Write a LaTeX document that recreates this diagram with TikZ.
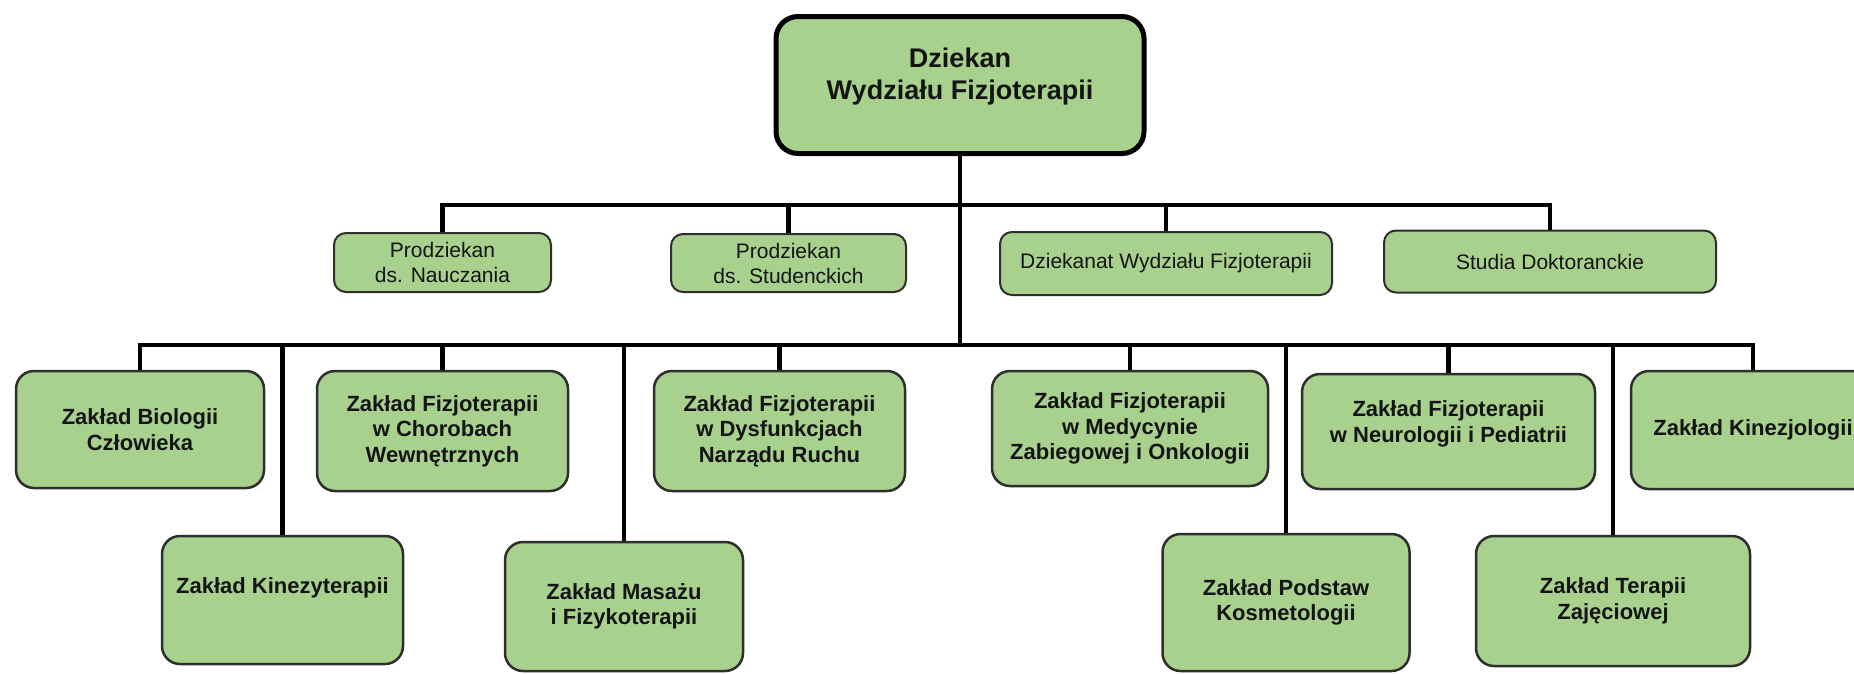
\documentclass[tikz,border=0pt]{standalone}
\usepackage{fontspec}
\setmainfont{Liberation Sans}
\definecolor{boxfill}{HTML}{A9D18E}
\definecolor{boxline}{HTML}{2E2E2E}
\definecolor{txt}{HTML}{141414}
\begin{document}
\begin{tikzpicture}[x=1pt,y=-1pt,
  box/.style={draw=boxline, fill=boxfill, rounded corners=18pt, line width=2.5pt, align=center, inner sep=0pt, text=txt},
  dept/.style={box, font=\fontsize{22}{25.5}\selectfont\bfseries},
  deanbox/.style={box, draw=black, line width=5pt, rounded corners=22pt, font=\fontsize{27}{32}\selectfont\bfseries},
  office/.style={box, rounded corners=12pt, line width=2pt, font=\fontsize{21}{25}\selectfont},
  conn/.style={line width=4.8pt, draw=black}]
\useasboundingbox (0,0) rectangle (1854,673);
\begin{scope}
\clip (0,0) rectangle (1854,673);
% dean
\node[deanbox, minimum width=368pt, minimum height=137pt, text depth=22pt] (dean) at (960,85) {Dziekan\\Wydziału Fizjoterapii};
% level 2
\node[office, minimum width=217pt, minimum height=59pt] (p1) at (442.5,262.5) {Prodziekan\\ds. Nauczania};
\node[office, minimum width=235pt, minimum height=58pt] (p2) at (788.5,263) {Prodziekan\\ds. Studenckich};
\node[office, minimum width=332pt, minimum height=63pt] (dz) at (1166,263.5) {Dziekanat Wydziału Fizjoterapii};
\node[office, minimum width=332pt, minimum height=62pt] (sd) at (1550,261.5) {Studia Doktoranckie};
% level 3
\node[dept, minimum width=248pt, minimum height=117pt] (b1) at (140,429.5) {Zakład Biologii\\Człowieka};
\node[dept, minimum width=241pt, minimum height=128pt, text depth=28pt] (b2) at (282.5,600) {Zakład Kinezyterapii};
\node[dept, minimum width=251pt, minimum height=120pt] (b3) at (442.5,431) {Zakład Fizjoterapii\\w Chorobach\\Wewnętrznych};
\node[dept, minimum width=238pt, minimum height=129pt] (b4) at (624,606.5) {Zakład Masażu\\i Fizykoterapii};
\node[dept, minimum width=251pt, minimum height=120pt] (b5) at (779.5,431) {Zakład Fizjoterapii\\w Dysfunkcjach\\Narządu Ruchu};
\node[dept, minimum width=276pt, minimum height=115pt] (b6) at (1130,428.5) {Zakład Fizjoterapii\\w Medycynie\\Zabiegowej i Onkologii};
\node[dept, minimum width=247pt, minimum height=137pt] (b7) at (1286,602.5) {Zakład Podstaw\\Kosmetologii};
\node[dept, minimum width=293pt, minimum height=115pt, text depth=20pt] (b8) at (1448.5,431.5) {Zakład Fizjoterapii\\w Neurologii i Pediatrii};
\node[dept, minimum width=274pt, minimum height=130pt] (b9) at (1613,601) {Zakład Terapii\\Zajęciowej};
\node[dept, minimum width=244pt, minimum height=118pt] (b10) at (1753,430) {Zakład Kinezjologii};
% buses
\coordinate (h1) at (960,205);
\coordinate (h2) at (960,345);
\draw[conn] (dean.south) -- (h2);
\draw[conn] (p1.north) |- (h1);
\draw[conn] (sd.north) |- (h1);
\draw[conn] (p2.north) |- (h1);
\draw[conn] (dz.north) |- (h1);
\draw[conn] (b1.north) |- (h2);
\draw[conn] (b10.north) |- (h2);
\foreach \n in {b2,b3,b4,b5,b6,b7,b8,b9} {\draw[conn] (\n.north) |- (h2);}
\end{scope}
\end{tikzpicture}
\end{document}
